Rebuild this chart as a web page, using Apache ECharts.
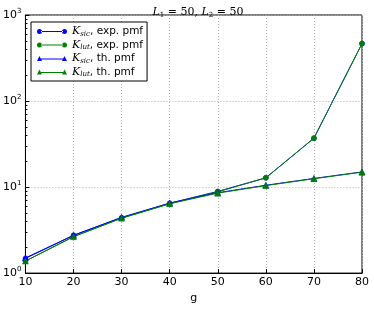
<!DOCTYPE html>
<html><head><meta charset="utf-8">
<script src="https://cdn.jsdelivr.net/npm/echarts@6/dist/echarts.min.js"></script>
<style>html,body{margin:0;padding:0;background:#fff}#c{width:374px;height:309px}</style>
</head><body><div id="c"></div>
<script>
const gValues = [10, 20, 30, 40, 50, 60, 70, 80];
const sicExp = [1.48, 2.75, 4.4, 6.5, 8.9, 12.8, 37, 465];
const lutExp = [1.38, 2.65, 4.35, 6.4, 8.8, 12.8, 37, 465];
const sicTh = [1.5, 2.75, 4.45, 6.5, 8.6, 10.5, 12.6, 15.0];
const lutTh = [1.38, 2.65, 4.35, 6.4, 8.5, 10.4, 12.5, 14.9];
const seriesNames = ['sic exp', 'lut exp', 'sic th', 'lut th'];

const circIcon = 'path://M0,2.5a2.5,2.5 0 1,0 5,0a2.5,2.5 0 1,0 -5,0Z M25,2.5a2.5,2.5 0 1,0 5,0a2.5,2.5 0 1,0 -5,0Z M4,2L26,2L26,3L4,3Z';
const triIcon = 'path://M0,5L2.5,0L5,5Z M25,5L27.5,0L30,5Z M4,2.5L26,2.5L26,3.5L4,3.5Z';
const serif = 'DejaVu Serif';
const sans = 'DejaVu Sans';

const chart = echarts.init(document.getElementById('c'), null, {renderer: 'canvas'});
function pairs(v){ return gValues.map((g,i)=>[g, v[i]]); }
function mk(name, data, color, sym){
  return {name, type:'line', data: pairs(data), symbol: sym, symbolSize: sym==='circle'?5:6,
    lineStyle:{color, width:1}, itemStyle:{color, borderColor: color, borderWidth: 0.5}, z: 2, animation:false};
}
const legendFmt = {
  'sic exp': '{k|K}{s|sic}{t|, exp. pmf}',
  'lut exp': '{k|K}{s|lut}{t|, exp. pmf}',
  'sic th': '{k|K}{s|sic}{t|, th. pmf}',
  'lut th': '{k|K}{s|lut}{t|, th. pmf}'
};
chart.setOption({
  animation: false,
  title: {
    text: '{i|L}{s|1}{n| = 50, }{i|L}{s|2}{n| = 50}',
    left: 193, top: 1, textAlign: 'center',
    textStyle: { fontWeight: 'normal', rich: {
      i: {fontFamily: serif, fontStyle: 'italic', fontWeight: 'normal', fontSize: 11, color: '#000'},
      s: {fontFamily: serif, fontWeight: 'normal', fontSize: 7, color: '#000', padding:[6,0,0,0]},
      n: {fontFamily: serif, fontWeight: 'normal', fontSize: 11, color: '#000'}
    }}
  },
  legend: {
    left: 31, top: 22, orient: 'vertical',
    backgroundColor: '#fff', borderColor: '#000', borderWidth: 1, borderRadius: 0,
    padding: [4, 4, 3, 6], itemGap: 2, itemWidth: 30, itemHeight: 5,
    itemStyle: {borderWidth: 0},
    lineStyle: {width: 0},
    data: [
      {name: 'sic exp', icon: circIcon},
      {name: 'lut exp', icon: circIcon},
      {name: 'sic th', icon: triIcon},
      {name: 'lut th', icon: triIcon}
    ],
    formatter: n => legendFmt[n],
    textStyle: { rich: {
      k: {fontFamily: serif, fontStyle: 'italic', fontSize: 11, color: '#000', height: 14},
      s: {fontFamily: serif, fontStyle: 'italic', fontSize: 7, color: '#000', padding: [5,0,0,0], height: 14},
      t: {fontFamily: sans, fontSize: 10.5, color: '#000', height: 14}
    }}
  },
  grid: {left: 25, right: 12, top: 15, bottom: 31, show: true, borderColor: '#000', borderWidth: 1, backgroundColor: 'transparent'},
  xAxis: {
    type: 'value', min: 10, max: 80, interval: 10,
    name: 'g', nameLocation: 'middle', nameGap: 17,
    nameTextStyle: {fontFamily: sans, fontSize: 11, color: '#000'},
    axisLine: {show: true, lineStyle: {color: '#000'}},
    axisTick: {show: true, inside: true, length: 4, lineStyle: {color: '#000'}},
    axisLabel: {fontFamily: sans, fontSize: 11, color: '#000', margin: 4},
    splitLine: {show: true, lineStyle: {color: '#b0b0b0', type: [1, 2], width: 1}}
  },
  yAxis: {
    type: 'log', logBase: 10, min: 1, max: 1000,
    axisLine: {show: true, lineStyle: {color: '#000'}},
    axisTick: {show: true, inside: true, length: 4, lineStyle: {color: '#000'}},
    minorTick: {show: true, splitNumber: 9, length: 2, lineStyle: {color: '#000'}},
    axisLabel: {
      margin: 4, color: '#000',
      formatter: v => '{b|10}{e|' + Math.round(Math.log10(v)) + '}',
      rich: {
        b: {fontFamily: sans, fontSize: 11, color: '#000'},
        e: {fontFamily: sans, fontSize: 7, color: '#000', padding: [0,0,7,0]}
      }
    },
    splitLine: {show: true, lineStyle: {color: '#b0b0b0', type: [1, 2], width: 1}}
  },
  series: [
    mk('sic exp', sicExp, '#0000ff', 'circle'),
    mk('lut exp', lutExp, '#008000', 'circle'),
    mk('sic th', sicTh, '#0000ff', 'triangle'),
    mk('lut th', lutTh, '#008000', 'triangle')
  ]
});
</script></body></html>
